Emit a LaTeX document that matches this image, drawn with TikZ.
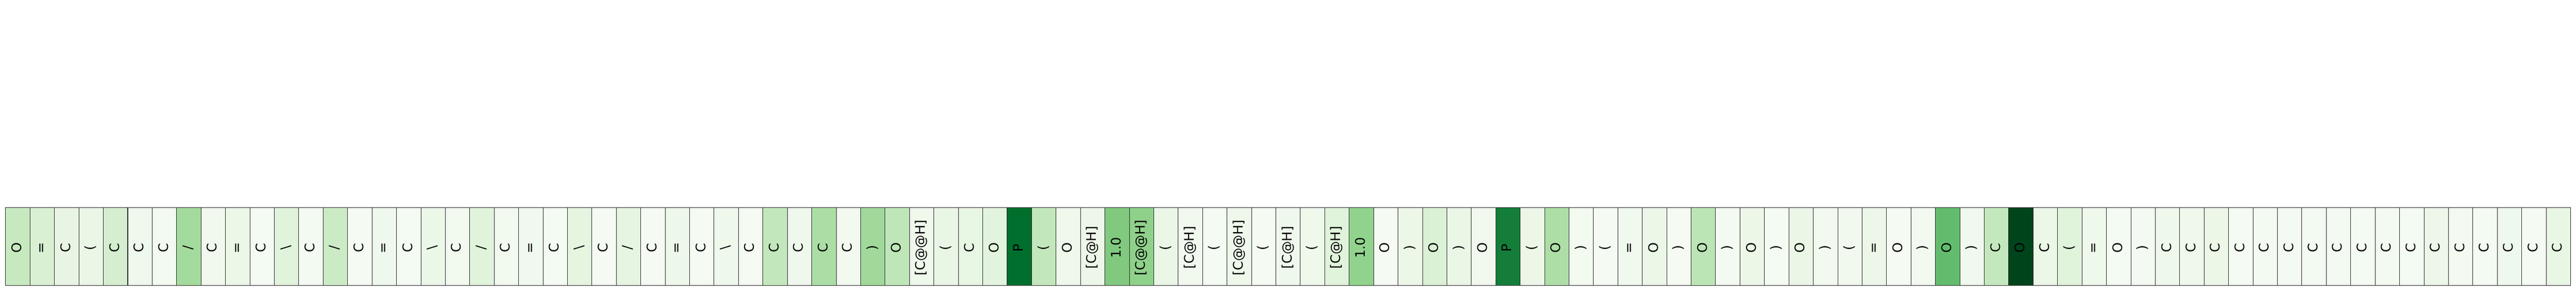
\documentclass[tikz,border=0pt]{standalone}
\usepackage{fontspec}
\setmainfont{DejaVu Sans}
\definecolor{g0}{HTML}{C7E9C0}
\definecolor{g1}{HTML}{D9F0D3}
\definecolor{g2}{HTML}{E8F5E4}
\definecolor{g3}{HTML}{EAF6E6}
\definecolor{g4}{HTML}{D4EECF}
\definecolor{g5}{HTML}{EFF8EC}
\definecolor{g6}{HTML}{F3FAF0}
\definecolor{g7}{HTML}{A3DA9D}
\definecolor{g8}{HTML}{F1F9EE}
\definecolor{g9}{HTML}{EBF7E7}
\definecolor{g10}{HTML}{F4FBF2}
\definecolor{g11}{HTML}{E0F3DB}
\definecolor{g12}{HTML}{F3FAF1}
\definecolor{g13}{HTML}{CBEBC5}
\definecolor{g14}{HTML}{F5FBF3}
\definecolor{g15}{HTML}{EFF8EC}
\definecolor{g16}{HTML}{F4FBF2}
\definecolor{g17}{HTML}{EBF7E7}
\definecolor{g18}{HTML}{F2FAF0}
\definecolor{g19}{HTML}{E0F3DB}
\definecolor{g20}{HTML}{F2FAF0}
\definecolor{g21}{HTML}{F0F9ED}
\definecolor{g22}{HTML}{F4FBF2}
\definecolor{g23}{HTML}{E5F5E0}
\definecolor{g24}{HTML}{F5FBF3}
\definecolor{g25}{HTML}{E5F5E1}
\definecolor{g26}{HTML}{F5FBF3}
\definecolor{g27}{HTML}{EDF8EA}
\definecolor{g28}{HTML}{F5FBF3}
\definecolor{g29}{HTML}{EEF8EB}
\definecolor{g30}{HTML}{F5FBF3}
\definecolor{g31}{HTML}{C3E7BC}
\definecolor{g32}{HTML}{EFF8EC}
\definecolor{g33}{HTML}{ABDDA5}
\definecolor{g34}{HTML}{F2FAF0}
\definecolor{g35}{HTML}{A0D99A}
\definecolor{g36}{HTML}{BFE6B8}
\definecolor{g37}{HTML}{EEF8EB}
\definecolor{g38}{HTML}{E9F6E5}
\definecolor{g39}{HTML}{E8F6E4}
\definecolor{g40}{HTML}{E3F4DE}
\definecolor{g41}{HTML}{006F2E}
\definecolor{g42}{HTML}{C3E7BC}
\definecolor{g43}{HTML}{EEF8EB}
\definecolor{g44}{HTML}{EDF7E9}
\definecolor{g45}{HTML}{80C97F}
\definecolor{g46}{HTML}{8FD18B}
\definecolor{g47}{HTML}{EAF6E6}
\definecolor{g48}{HTML}{F1F9EE}
\definecolor{g49}{HTML}{F4FBF2}
\definecolor{g50}{HTML}{EDF8EA}
\definecolor{g51}{HTML}{F5FBF3}
\definecolor{g52}{HTML}{EFF8EC}
\definecolor{g53}{HTML}{EEF8EB}
\definecolor{g54}{HTML}{E0F3DB}
\definecolor{g55}{HTML}{91D38D}
\definecolor{g56}{HTML}{F5FBF3}
\definecolor{g57}{HTML}{ECF7E8}
\definecolor{g58}{HTML}{DBF1D6}
\definecolor{g59}{HTML}{EAF6E6}
\definecolor{g60}{HTML}{F1F9EE}
\definecolor{g61}{HTML}{137D39}
\definecolor{g62}{HTML}{ECF7E8}
\definecolor{g63}{HTML}{ADDEA6}
\definecolor{g64}{HTML}{F3FAF0}
\definecolor{g65}{HTML}{F5FBF3}
\definecolor{g66}{HTML}{F0F9ED}
\definecolor{g67}{HTML}{EBF7E7}
\definecolor{g68}{HTML}{F5FBF3}
\definecolor{g69}{HTML}{BCE5B5}
\definecolor{g70}{HTML}{F3FAF1}
\definecolor{g71}{HTML}{ECF7E8}
\definecolor{g72}{HTML}{F4FBF2}
\definecolor{g73}{HTML}{EAF6E6}
\definecolor{g74}{HTML}{F2FAF0}
\definecolor{g75}{HTML}{F1F9EE}
\definecolor{g76}{HTML}{EDF7E9}
\definecolor{g77}{HTML}{F5FBF3}
\definecolor{g78}{HTML}{F2FAF0}
\definecolor{g79}{HTML}{63BC6E}
\definecolor{g80}{HTML}{F0F9ED}
\definecolor{g81}{HTML}{C4E8BD}
\definecolor{g82}{HTML}{00441B}
\definecolor{g83}{HTML}{EBF7E7}
\definecolor{g84}{HTML}{E0F3DB}
\definecolor{g85}{HTML}{EEF8EB}
\definecolor{g86}{HTML}{F4FBF2}
\definecolor{g87}{HTML}{F3FAF1}
\definecolor{g88}{HTML}{EEF8EB}
\definecolor{g89}{HTML}{EEF8EB}
\definecolor{g90}{HTML}{ECF7E8}
\definecolor{g91}{HTML}{F4FBF2}
\definecolor{g92}{HTML}{F3FAF1}
\definecolor{g93}{HTML}{F3FAF1}
\definecolor{g94}{HTML}{F3FAF1}
\definecolor{g95}{HTML}{F3FAF1}
\definecolor{g96}{HTML}{F4FBF2}
\definecolor{g97}{HTML}{F3FAF0}
\definecolor{g98}{HTML}{F4FBF2}
\definecolor{g99}{HTML}{EDF7E9}
\definecolor{g100}{HTML}{F3FAF0}
\definecolor{g101}{HTML}{F4FBF2}
\definecolor{g102}{HTML}{EFF8EC}
\definecolor{g103}{HTML}{F5FBF3}
\definecolor{g104}{HTML}{E8F6E4}
\tikzset{
  tok/.style={draw=black!85, line width=0.4pt, rectangle, rotate=90,
    minimum width=2.11cm, minimum height=0.6638cm, inner sep=0pt,
    text height=0.75em, text depth=0.2em,
    font=\fontsize{10.2}{12}\selectfont,
    execute at begin node={\hspace*{-2.1pt}}}
}
\begin{document}
\begin{tikzpicture}
      \useasboundingbox (0,0) rectangle (70,8);
      \node[tok, fill=g0] (t0) at (0.485,1.312) {O};
      \node[tok, fill=g1] (t1) at (1.149,1.312) {=};
      \node[tok, fill=g2] (t2) at (1.812,1.312) {C};
      \node[tok, fill=g3] (t3) at (2.476,1.312) {(};
      \node[tok, fill=g4] (t4) at (3.140,1.312) {C};
      \node[tok, fill=g5] (t5) at (3.804,1.312) {C};
      \node[tok, fill=g6] (t6) at (4.468,1.312) {C};
      \node[tok, fill=g7] (t7) at (5.131,1.312) {/};
      \node[tok, fill=g8] (t8) at (5.795,1.312) {C};
      \node[tok, fill=g9] (t9) at (6.459,1.312) {=};
      \node[tok, fill=g10] (t10) at (7.123,1.312) {C};
      \node[tok, fill=g11] (t11) at (7.787,1.312) {\textbackslash};
      \node[tok, fill=g12] (t12) at (8.451,1.312) {C};
      \node[tok, fill=g13] (t13) at (9.114,1.312) {/};
      \node[tok, fill=g14] (t14) at (9.778,1.312) {C};
      \node[tok, fill=g15] (t15) at (10.442,1.312) {=};
      \node[tok, fill=g16] (t16) at (11.106,1.312) {C};
      \node[tok, fill=g17] (t17) at (11.770,1.312) {\textbackslash};
      \node[tok, fill=g18] (t18) at (12.433,1.312) {C};
      \node[tok, fill=g19] (t19) at (13.097,1.312) {/};
      \node[tok, fill=g20] (t20) at (13.761,1.312) {C};
      \node[tok, fill=g21] (t21) at (14.425,1.312) {=};
      \node[tok, fill=g22] (t22) at (15.089,1.312) {C};
      \node[tok, fill=g23] (t23) at (15.752,1.312) {\textbackslash};
      \node[tok, fill=g24] (t24) at (16.416,1.312) {C};
      \node[tok, fill=g25] (t25) at (17.080,1.312) {/};
      \node[tok, fill=g26] (t26) at (17.744,1.312) {C};
      \node[tok, fill=g27] (t27) at (18.408,1.312) {=};
      \node[tok, fill=g28] (t28) at (19.071,1.312) {C};
      \node[tok, fill=g29] (t29) at (19.735,1.312) {\textbackslash};
      \node[tok, fill=g30] (t30) at (20.399,1.312) {C};
      \node[tok, fill=g31] (t31) at (21.063,1.312) {C};
      \node[tok, fill=g32] (t32) at (21.727,1.312) {C};
      \node[tok, fill=g33] (t33) at (22.390,1.312) {C};
      \node[tok, fill=g34] (t34) at (23.054,1.312) {C};
      \node[tok, fill=g35] (t35) at (23.718,1.312) {)};
      \node[tok, fill=g36] (t36) at (24.382,1.312) {O};
      \node[tok, fill=g37] (t37) at (25.046,1.312) {[C@@H]};
      \node[tok, fill=g38] (t38) at (25.709,1.312) {(};
      \node[tok, fill=g39] (t39) at (26.373,1.312) {C};
      \node[tok, fill=g40] (t40) at (27.037,1.312) {O};
      \node[tok, fill=g41] (t41) at (27.701,1.312) {P};
      \node[tok, fill=g42] (t42) at (28.365,1.312) {(};
      \node[tok, fill=g43] (t43) at (29.028,1.312) {O};
      \node[tok, fill=g44] (t44) at (29.692,1.312) {[C@H]};
      \node[tok, fill=g45] (t45) at (30.356,1.312) {1.0};
      \node[tok, fill=g46] (t46) at (31.020,1.312) {[C@@H]};
      \node[tok, fill=g47] (t47) at (31.684,1.312) {(};
      \node[tok, fill=g48] (t48) at (32.347,1.312) {[C@H]};
      \node[tok, fill=g49] (t49) at (33.011,1.312) {(};
      \node[tok, fill=g50] (t50) at (33.675,1.312) {[C@@H]};
      \node[tok, fill=g51] (t51) at (34.339,1.312) {(};
      \node[tok, fill=g52] (t52) at (35.003,1.312) {[C@H]};
      \node[tok, fill=g53] (t53) at (35.667,1.312) {(};
      \node[tok, fill=g54] (t54) at (36.330,1.312) {[C@H]};
      \node[tok, fill=g55] (t55) at (36.994,1.312) {1.0};
      \node[tok, fill=g56] (t56) at (37.658,1.312) {O};
      \node[tok, fill=g57] (t57) at (38.322,1.312) {)};
      \node[tok, fill=g58] (t58) at (38.986,1.312) {O};
      \node[tok, fill=g59] (t59) at (39.649,1.312) {)};
      \node[tok, fill=g60] (t60) at (40.313,1.312) {O};
      \node[tok, fill=g61] (t61) at (40.977,1.312) {P};
      \node[tok, fill=g62] (t62) at (41.641,1.312) {(};
      \node[tok, fill=g63] (t63) at (42.305,1.312) {O};
      \node[tok, fill=g64] (t64) at (42.968,1.312) {)};
      \node[tok, fill=g65] (t65) at (43.632,1.312) {(};
      \node[tok, fill=g66] (t66) at (44.296,1.312) {=};
      \node[tok, fill=g67] (t67) at (44.960,1.312) {O};
      \node[tok, fill=g68] (t68) at (45.624,1.312) {)};
      \node[tok, fill=g69] (t69) at (46.287,1.312) {O};
      \node[tok, fill=g70] (t70) at (46.951,1.312) {)};
      \node[tok, fill=g71] (t71) at (47.615,1.312) {O};
      \node[tok, fill=g72] (t72) at (48.279,1.312) {)};
      \node[tok, fill=g73] (t73) at (48.943,1.312) {O};
      \node[tok, fill=g74] (t74) at (49.606,1.312) {)};
      \node[tok, fill=g75] (t75) at (50.270,1.312) {(};
      \node[tok, fill=g76] (t76) at (50.934,1.312) {=};
      \node[tok, fill=g77] (t77) at (51.598,1.312) {O};
      \node[tok, fill=g78] (t78) at (52.262,1.312) {)};
      \node[tok, fill=g79] (t79) at (52.925,1.312) {O};
      \node[tok, fill=g80] (t80) at (53.589,1.312) {)};
      \node[tok, fill=g81] (t81) at (54.253,1.312) {C};
      \node[tok, fill=g82] (t82) at (54.917,1.312) {O};
      \node[tok, fill=g83] (t83) at (55.581,1.312) {C};
      \node[tok, fill=g84] (t84) at (56.244,1.312) {(};
      \node[tok, fill=g85] (t85) at (56.908,1.312) {=};
      \node[tok, fill=g86] (t86) at (57.572,1.312) {O};
      \node[tok, fill=g87] (t87) at (58.236,1.312) {)};
      \node[tok, fill=g88] (t88) at (58.900,1.312) {C};
      \node[tok, fill=g89] (t89) at (59.563,1.312) {C};
      \node[tok, fill=g90] (t90) at (60.227,1.312) {C};
      \node[tok, fill=g91] (t91) at (60.891,1.312) {C};
      \node[tok, fill=g92] (t92) at (61.555,1.312) {C};
      \node[tok, fill=g93] (t93) at (62.219,1.312) {C};
      \node[tok, fill=g94] (t94) at (62.883,1.312) {C};
      \node[tok, fill=g95] (t95) at (63.546,1.312) {C};
      \node[tok, fill=g96] (t96) at (64.210,1.312) {C};
      \node[tok, fill=g97] (t97) at (64.874,1.312) {C};
      \node[tok, fill=g98] (t98) at (65.538,1.312) {C};
      \node[tok, fill=g99] (t99) at (66.202,1.312) {C};
      \node[tok, fill=g100] (t100) at (66.865,1.312) {C};
      \node[tok, fill=g101] (t101) at (67.529,1.312) {C};
      \node[tok, fill=g102] (t102) at (68.193,1.312) {C};
      \node[tok, fill=g103] (t103) at (68.857,1.312) {C};
      \node[tok, fill=g104] (t104) at (69.521,1.312) {C};
    \end{tikzpicture}
\end{document}
